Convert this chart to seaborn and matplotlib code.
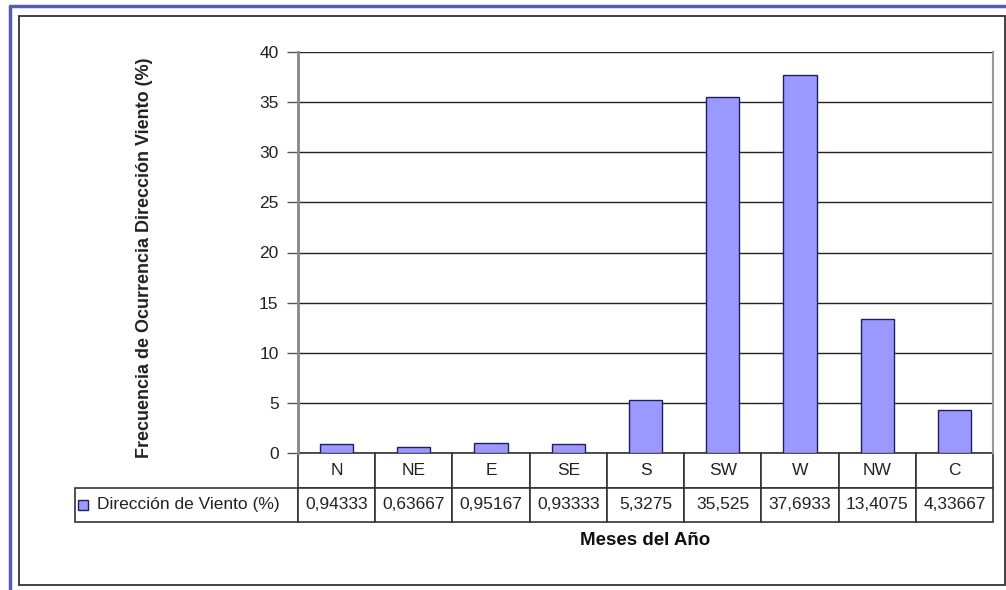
import matplotlib
matplotlib.use("Agg")
import matplotlib.pyplot as plt
import seaborn as sns
from matplotlib.table import Table
from matplotlib.patches import Rectangle
from matplotlib.lines import Line2D

# Wind direction frequency data
directions = ['N', 'NE', 'E', 'SE', 'S', 'SW', 'W', 'NW', 'C']
frequency = [0.94333, 0.63667, 0.95167, 0.93333, 5.3275, 35.525, 37.6933, 13.4075, 4.33667]
series_name = 'Dirección de Viento (%)'
y_ticks = [0, 5, 10, 15, 20, 25, 30, 35, 40]

W, H = 1006, 590
BAR_COLOR = '#9999FF'


def fx(px):
    return px / W


def fy(py):
    return 1 - py / H


sns.set_theme(style='white')
plt.rcParams['font.family'] = ['Liberation Sans', 'DejaVu Sans']

fig = plt.figure(figsize=(W / 100, H / 100), dpi=100)

# outer blue border + inner chart frame
fig.add_artist(Line2D([fx(9.5), fx(9.5)], [fy(6), 0], transform=fig.transFigure, color='#5a5ab4', lw=2.5))
fig.add_artist(Line2D([fx(9.5), 1], [fy(6), fy(6)], transform=fig.transFigure, color='#5a5ab4', lw=2.5))
fig.add_artist(Rectangle((fx(19), fy(585)), fx(1005) - fx(19), fy(16) - fy(585),
                         transform=fig.transFigure, fill=False, edgecolor='#333333', lw=1.3))

ax_l, ax_r, ax_t, ax_b = 298, 993, 52, 453
ax = fig.add_axes([fx(ax_l), fy(ax_b), fx(ax_r - ax_l), (ax_b - ax_t) / H])

sns.barplot(x=directions, y=frequency, width=0.43, color=BAR_COLOR, saturation=1,
            edgecolor='#1f1f5c', linewidth=1, ax=ax, zorder=3)

ax.set_ylim(0, 40)
ax.set_yticks(y_ticks)
ax.yaxis.grid(True, color='#222222', lw=1)
ax.set_axisbelow(True)
ax.tick_params(axis='y', direction='out', length=8, width=1, color='#555555',
               labelsize=12.5, pad=6, left=True, labelcolor='#222222')
ax.tick_params(axis='x', bottom=False, labelbottom=False)
for s in ['top', 'bottom']:
    ax.spines[s].set_visible(False)
ax.spines['left'].set_color('#888888')
ax.spines['left'].set_linewidth(2)
ax.spines['right'].set_color('#999999')
ax.spines['right'].set_linewidth(1.5)

ax.set_ylabel('Frecuencia de Ocurrencia Dirección Viento (%)', fontsize=13, fontweight='bold', color='#222222')
ax.yaxis.set_label_coords((153 - ax_l) / (ax_r - ax_l), (ax_b - 258) / (ax_b - ax_t))
ax.set_xlabel('Meses del Año', fontsize=13.5, fontweight='bold', color='#111111')
ax.xaxis.set_label_coords(0.5, (ax_b - 532) / (ax_b - ax_t))

# data table under the plot
leg_l, tbl_b = 75, 522
aw, ah = ax_r - ax_l, ax_b - ax_t
tbl = Table(ax, bbox=[(leg_l - ax_l) / aw, (ax_b - tbl_b) / ah, (ax_r - leg_l) / aw, (tbl_b - ax_b) / ah])
leg_w = ax_l - leg_l
col_w = aw / len(directions)
corner = tbl.add_cell(0, 0, width=leg_w, height=1, text='', loc='left')
corner.visible_edges = ''
tbl.add_cell(1, 0, width=leg_w, height=1, text=series_name, loc='left')
for i, (d, v) in enumerate(zip(directions, frequency)):
    tbl.add_cell(0, i + 1, width=col_w, height=1, text=d, loc='center')
    tbl.add_cell(1, i + 1, width=col_w, height=1, text=f'{v:g}'.replace('.', ','), loc='center')
tbl.auto_set_font_size(False)
tbl.set_fontsize(12.5)
for cell in tbl.get_celld().values():
    cell.set_edgecolor('#333333')
    cell.set_linewidth(1.2)
    cell.get_text().set_color('#222222')
ax.add_table(tbl)

# legend key in the table
fig.add_artist(Rectangle((fx(78), fy(510)), fx(10), 10 / H, transform=fig.transFigure,
                         facecolor=BAR_COLOR, edgecolor='#1f1f5c', lw=1))

fig.savefig('out.png', dpi=100)
